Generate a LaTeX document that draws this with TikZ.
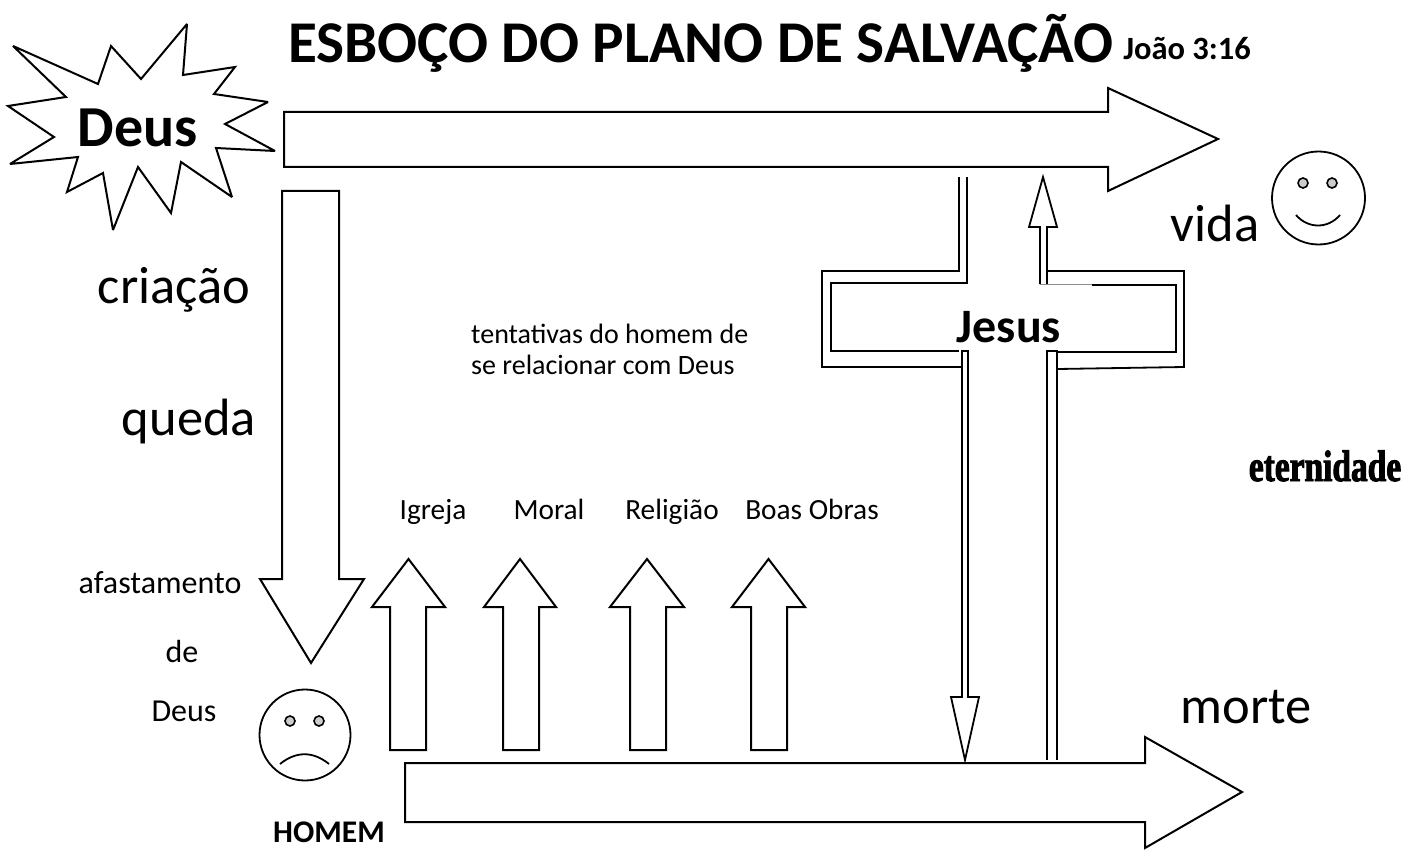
\documentclass[tikz,border=0pt]{standalone}
\usepackage{fontspec}
\setmainfont{Carlito}
\newfontfamily\heavyserif[BoldFont={Liberation Serif Bold},BoldFeatures={FakeBold=2.2,FakeStretch=0.76}]{Liberation Serif}
\newcommand{\fsz}[1]{\fontsize{#1}{#1}\selectfont}
\tikzset{
  ln/.style={draw=black,line width=2pt,line join=miter},
  thinln/.style={draw=black,line width=1.8pt},
  lab/.style={inner sep=0pt,anchor=base,text=black},
  titletext/.style={lab,font=\fsz{59.2}\bfseries},
  big/.style={lab,font=\fsz{52.5}},
  small/.style={lab,font=\fsz{32}},
  mid/.style={lab,font=\fsz{29.3}},
  eye/.style={draw=black,line width=1.6pt,fill=black!20},
}
\begin{document}
\begin{tikzpicture}[x=1pt,y=-1pt]
\useasboundingbox (0,0) rectangle (1420,850);
\fill[white] (0,0) rectangle (1420,850);
% star
\draw[ln,line join=miter,miter limit=3] (13,46)--(98,84)--(111,46)--(141,79)--(187,24)--(183,75)--(235,67)--(214,94)--(268,102)--(225,124)--(275,151)--(216,148)--(232,197)--(181,162)--(171,213)--(138,167)--(113,230)--(103,173)--(67,192)--(78,157)--(10,164)--(54,137)--(8,106)--(66,97)--cycle;
% big arrows
\draw[ln] (284,112)--(1108,112)--(1108,88)--(1218,139)--(1108,191)--(1108,167)--(284,167)--cycle;
\draw[ln] (282,191)--(339,191)--(339,579)--(364,579)--(311,663)--(260,579)--(282,579)--cycle;
\draw[ln] (405,763)--(1145,763)--(1145,737)--(1242,792)--(1145,848)--(1145,822)--(405,822)--cycle;
% small up arrows
\foreach \l/\r/\hl/\hr in {390/426/372/445, 503/539/484/556, 630/666/610/684, 751/787/732/805}{
  \draw[ln] (\l,750)--(\l,607)--(\hl,607)--({(\hl+\hr)/2},559)--(\hr,607)--(\r,607)--(\r,750)--cycle;
}
% cross
\draw[thinln] (959,177)--(959,271)--(822,271)--(822,367)--(961,367);
\draw[thinln] (967,177)--(967,283)--(831,283)--(831,351)--(959,351);
\draw[thinln] (962,351)--(968,351)--(968,697)--(979,697)--(965,760)--(951,697)--(962,697)--cycle;
\draw[thinln] (1040,284)--(1040,227)--(1029,227)--(1043,177)--(1057,227)--(1047,227)--(1047,284);
\draw[thinln] (1047,271)--(1184,271)--(1184,367)--(1058,369);
\draw[draw=black!45,line width=1pt] (1040,284.5)--(1092,284.5);
\draw[thinln] (1092,285)--(1176,285)--(1176,352)--(1058,352);
\draw[thinln] (1047,760)--(1047,351)--(1057,351)--(1057,760);
% faces
\draw[line width=1.8pt] (1318.5,198) circle (46.5);
\draw[eye] (1303,183) circle (5);
\draw[eye] (1332,183) circle (5);
\draw[line width=1.8pt] (1296,215) .. controls (1308,229) and (1328,229) .. (1340,215);
\draw[line width=1.8pt] (305,735) circle (45.5);
\draw[eye] (290,721) circle (5);
\draw[eye] (319,721) circle (5);
\draw[line width=1.8pt] (280,764) .. controls (296,751) and (313,751) .. (329,764);
% texts
\node[titletext] (title) at (701,63) {ESBOÇO DO PLANO DE SALVAÇÃO};
\node[lab,font=\fsz{32.5}\bfseries] (ref) at (1187,60) {João 3:16};
\node[lab,font=\fsz{58}\bfseries] (deus) at (138,147) {Deus};
\node[big] (vida) at (1215,241) {vida};
\node[big] (criacao) at (174,303) {criação};
\node[big] (queda) at (189,435) {queda};
\node[small] (afast) at (160,593) {afastamento};
\node[small] (de) at (182,662) {de};
\node[small] (deus2) at (184,721) {Deus};
\node[lab,font=\fsz{31.5}\bfseries] (homem) at (329,842) {HOMEM};
\node[lab,font=\fsz{28},anchor=base west] (t1) at (471,343) {tentativas do homem de};
\node[lab,font=\fsz{28},anchor=base west] (t2) at (471,374) {se relacionar com Deus};
\node[mid] (igreja) at (433,519) {Igreja};
\node[mid] (moral) at (549,519) {Moral};
\node[mid] (relig) at (672,519) {Religião};
\node[mid] (boas) at (812,519) {Boas Obras};
\node[lab,font=\fsz{48}\bfseries] (jesus) at (1009,342) {Jesus};
\node[big] (morte) at (1246,723) {morte};
\node[lab,font=\heavyserif\fsz{44}\bfseries] (etern) at (1325,481) {eternidade};
\end{tikzpicture}
\end{document}
